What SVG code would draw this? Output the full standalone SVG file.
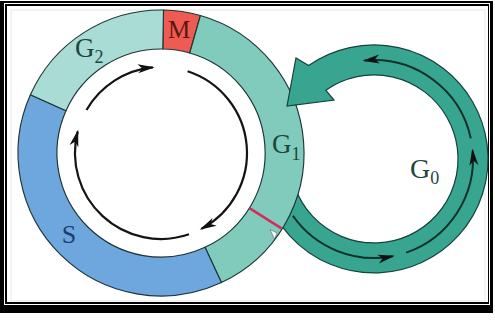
<svg xmlns="http://www.w3.org/2000/svg" width="495" height="320" viewBox="0 0 495 320">
  <style>
    .seg { stroke: #1d3535; stroke-width: 1.15; stroke-linejoin: round; }
    .lbl { font-family: "Liberation Serif", "Times New Roman", serif; }
    .flow { fill: none; stroke: #141414; stroke-width: 2.2; marker-end: url(#ah); }
    .flow0 { fill: none; stroke: #0e2f2a; stroke-width: 2; marker-end: url(#ah); }
    .band { fill: #38a590; stroke: #16423b; stroke-width: 1.2; stroke-linejoin: miter; }
  </style>
  <defs>
    <marker id="ah" viewBox="-18 -6 20 12" markerWidth="20" markerHeight="12" refX="-2" refY="0" orient="auto" markerUnits="userSpaceOnUse">
      <path d="M0,0 L-17,-4.5 L-12.5,0 L-17,4.5 Z" fill="#111"/>
    </marker>
    <clipPath id="ringDisk">
      <circle cx="161" cy="153" r="144.5"/>
    </clipPath>
  </defs>

  <!-- double black frame -->
  <g id="frame">
    <rect x="0" y="1" width="493" height="312" fill="#000"/>
    <rect x="4" y="3" width="486" height="302" fill="#fff"/>
    <rect x="5" y="4" width="484" height="300" fill="#000"/>
    <rect x="7" y="6" width="481" height="296" fill="#fff"/>
    <rect x="11" y="10" width="474" height="291" fill="none" stroke="#e2e2e2" stroke-width="0.8"/>
  </g>

  <!-- G0 loop: thick band leaving G1 and re-entering it -->
  <g id="node-g0">
    <path class="band" d="M266.9,198 A114,114 0 1 0 308.6,65.6 L296,58 L287,106 L334,100 L325.8,90.2 A84,84 0 1 1 295.1,187.7 Z"/>
  </g>

  <!-- cell cycle ring -->
  <g id="node-m">
    <path class="seg" fill="#ee5b53" d="M163.5,10 A143,143 0 0 1 200.4,15.5 L189.7,53 A104,104 0 0 0 162.8,49 Z"/>
    <text class="lbl" x="179" y="38" font-size="25" text-anchor="middle" fill="#5e1612">M</text>
  </g>
  <g id="node-g1">
    <path class="seg" fill="#80cbbb" d="M200.4,15.5 A143,143 0 0 1 221.4,282.6 L205,247.3 A104,104 0 0 0 189.7,53 Z"/>
    <text class="lbl" x="272" y="153" font-size="27" fill="#1f4540">G<tspan font-size="18" dy="7">1</tspan></text>
  </g>
  <g id="node-s">
    <path class="seg" fill="#6ea7de" d="M221.4,282.6 A143,143 0 0 1 30.4,94.8 L66,110.7 A104,104 0 0 0 205,247.3 Z"/>
    <text class="lbl" x="69" y="243" font-size="26" text-anchor="middle" fill="#1d3f6c">S</text>
  </g>
  <g id="node-g2">
    <path class="seg" fill="#a9dcd5" d="M30.4,94.8 A143,143 0 0 1 163.5,10 L162.8,49 A104,104 0 0 0 66,110.7 Z"/>
    <text class="lbl" x="75" y="57" font-size="27" fill="#1f4540">G<tspan font-size="18" dy="6">2</tspan></text>
  </g>

  <!-- restriction point marker in G1 -->
  <g id="node-restriction">
    <line x1="249.8" y1="208.4" x2="281.5" y2="228.3" stroke="#cf2f5a" stroke-width="2.6"/>
    <path d="M270,229.5 L277,233 L274.5,239 Z" fill="#fff" stroke="#3a4a48" stroke-width="0.5"/>
  </g>

  <!-- G0 arrowhead tip lying over the ring -->
  <g id="node-g0-tip" clip-path="url(#ringDisk)">
    <path class="band" d="M296,58 L287,106 L334,100 Z"/>
  </g>

  <g id="node-g0-label">
    <text class="lbl" x="410" y="178" font-size="28" fill="#1f4540">G<tspan font-size="18" dy="6">0</tspan></text>
  </g>

  <!-- direction arrows -->
  <g id="connectors">
    <path class="flow" d="M86.5,110 A86,86 0 0 1 152.8,67.4"/>
    <path class="flow" d="M187.6,71.2 A86,86 0 0 1 201.4,228.9"/>
    <path class="flow" d="M189,234.3 A86,86 0 0 1 77.7,131.5"/>
    <path class="flow0" d="M292.9,215.8 A99,99 0 0 0 392.9,256.2"/>
    <path class="flow0" d="M406.2,252.6 A99,99 0 0 0 472.6,150.4"/>
    <path class="flow0" d="M470.8,138.4 A99,99 0 0 0 364.5,60.5"/>
  </g>
</svg>
